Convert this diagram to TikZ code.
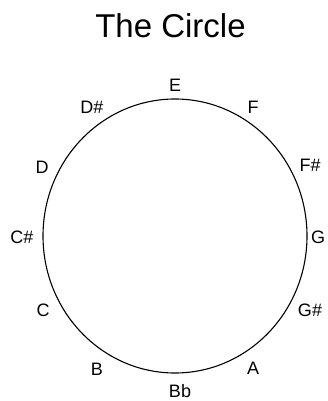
\documentclass[tikz,border=0pt]{standalone}
\usepackage{fontspec}
\setmainfont{Liberation Sans}
\usetikzlibrary{shapes.geometric}
\begin{document}
\begin{tikzpicture}[x=1pt,y=-1pt,
  note/.style={anchor=base,inner sep=0pt,font=\fontsize{18}{20}\selectfont},
  titletext/.style={anchor=base,inner sep=0pt,font=\fontsize{33}{36}\selectfont},
  ring/.style={draw,ellipse,line width=1.1pt,inner sep=0pt,minimum width=264pt,minimum height=274pt}]
\useasboundingbox (0,0) rectangle (327,401);
\node[titletext] (title) at (170.5,38) {The Circle};
\node[ring] (circ) at (175,236) {};
\node[note] (E)  at (175,92) {E};
\node[note] (F)  at (253,113.5) {F};
\node[note] (Fs) at (310,171.5) {F\#};
\node[note] (G)  at (318,243.5) {G};
\node[note] (Gs) at (310,316.5) {G\#};
\node[note] (A)  at (253,374.5) {A};
\node[note] (Bb) at (180,397) {Bb};
\node[note] (B)  at (97,375.5) {B};
\node[note] (C)  at (43,316.5) {C};
\node[note] (Cs) at (22,243.5) {C\#};
\node[note] (D)  at (42,173.5) {D};
\node[note] (Ds) at (92,113.5) {D\#};
\end{tikzpicture}
\end{document}
